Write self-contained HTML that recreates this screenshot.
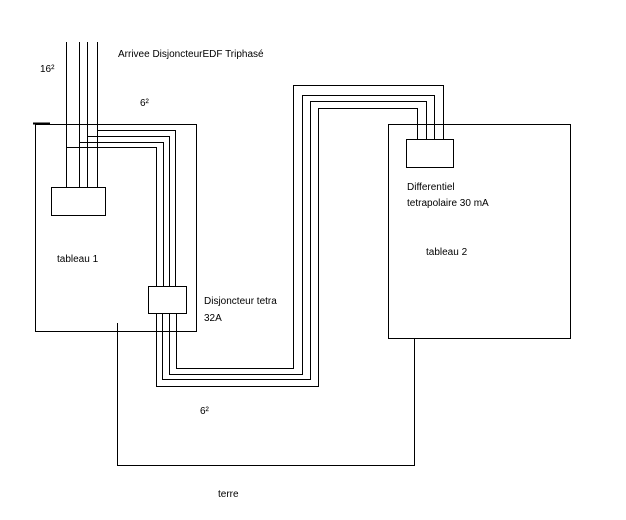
<!DOCTYPE html>
<html><head><meta charset="utf-8"><style>
body{margin:0;background:#fff;}
svg text{font-family:"Liberation Sans",sans-serif;font-size:10px;fill:#000;}
</style></head><body>
<svg width="626" height="515" viewBox="0 0 626 515" xmlns="http://www.w3.org/2000/svg" shape-rendering="crispEdges">
<g fill="none" stroke="#000" stroke-width="1">
<!-- tableau 1 -->
<rect x="35.5" y="124.5" width="161" height="207"/>
<line x1="33" y1="123.5" x2="50" y2="123.5" stroke-width="2"/>
<!-- incoming vertical lines -->
<line x1="66.5" y1="42" x2="66.5" y2="187"/>
<line x1="79.5" y1="42" x2="79.5" y2="187"/>
<line x1="87.5" y1="42" x2="87.5" y2="187"/>
<line x1="97.5" y1="42" x2="97.5" y2="187"/>
<rect x="51.5" y="187.5" width="54" height="28"/>
<!-- 6² lines to breaker -->
<polyline points="97.5,130.5 175.5,130.5 175.5,287"/>
<polyline points="87.5,136.5 169.5,136.5 169.5,287"/>
<polyline points="79.5,142.5 163.5,142.5 163.5,287"/>
<polyline points="66.5,147.5 156.5,147.5 156.5,287"/>
<rect x="148.5" y="286.5" width="38" height="27"/>
<!-- output lines -->
<polyline points="156.5,313 156.5,386.5 318.5,386.5 318.5,108.5 417.5,108.5 417.5,139"/>
<polyline points="162.5,313 162.5,379.5 310.5,379.5 310.5,101.5 426.5,101.5 426.5,139"/>
<polyline points="169.5,313 169.5,374.5 302.5,374.5 302.5,95.5 434.5,95.5 434.5,139"/>
<polyline points="176.5,313 176.5,368.5 293.5,368.5 293.5,85.5 443.5,85.5 443.5,139"/>
<!-- tableau 2 -->
<rect x="388.5" y="124.5" width="182" height="214"/>
<rect x="406.5" y="139.5" width="47" height="28"/>
<!-- terre -->
<polyline points="117.5,323 117.5,465.5 414.5,465.5 414.5,339"/>
</g>
<text x="40" y="72">16²</text>
<text x="118" y="57">Arrivee DisjoncteurEDF Triphasé</text>
<text x="140" y="106">6²</text>
<text x="57" y="262">tableau 1</text>
<text x="204" y="304">Disjoncteur tetra</text>
<text x="204" y="321">32A</text>
<text x="200" y="414">6²</text>
<text x="218" y="497">terre</text>
<text x="407" y="190">Differentiel</text>
<text x="407" y="206">tetrapolaire 30 mA</text>
<text x="426" y="255">tableau 2</text>
</svg>
</body></html>
